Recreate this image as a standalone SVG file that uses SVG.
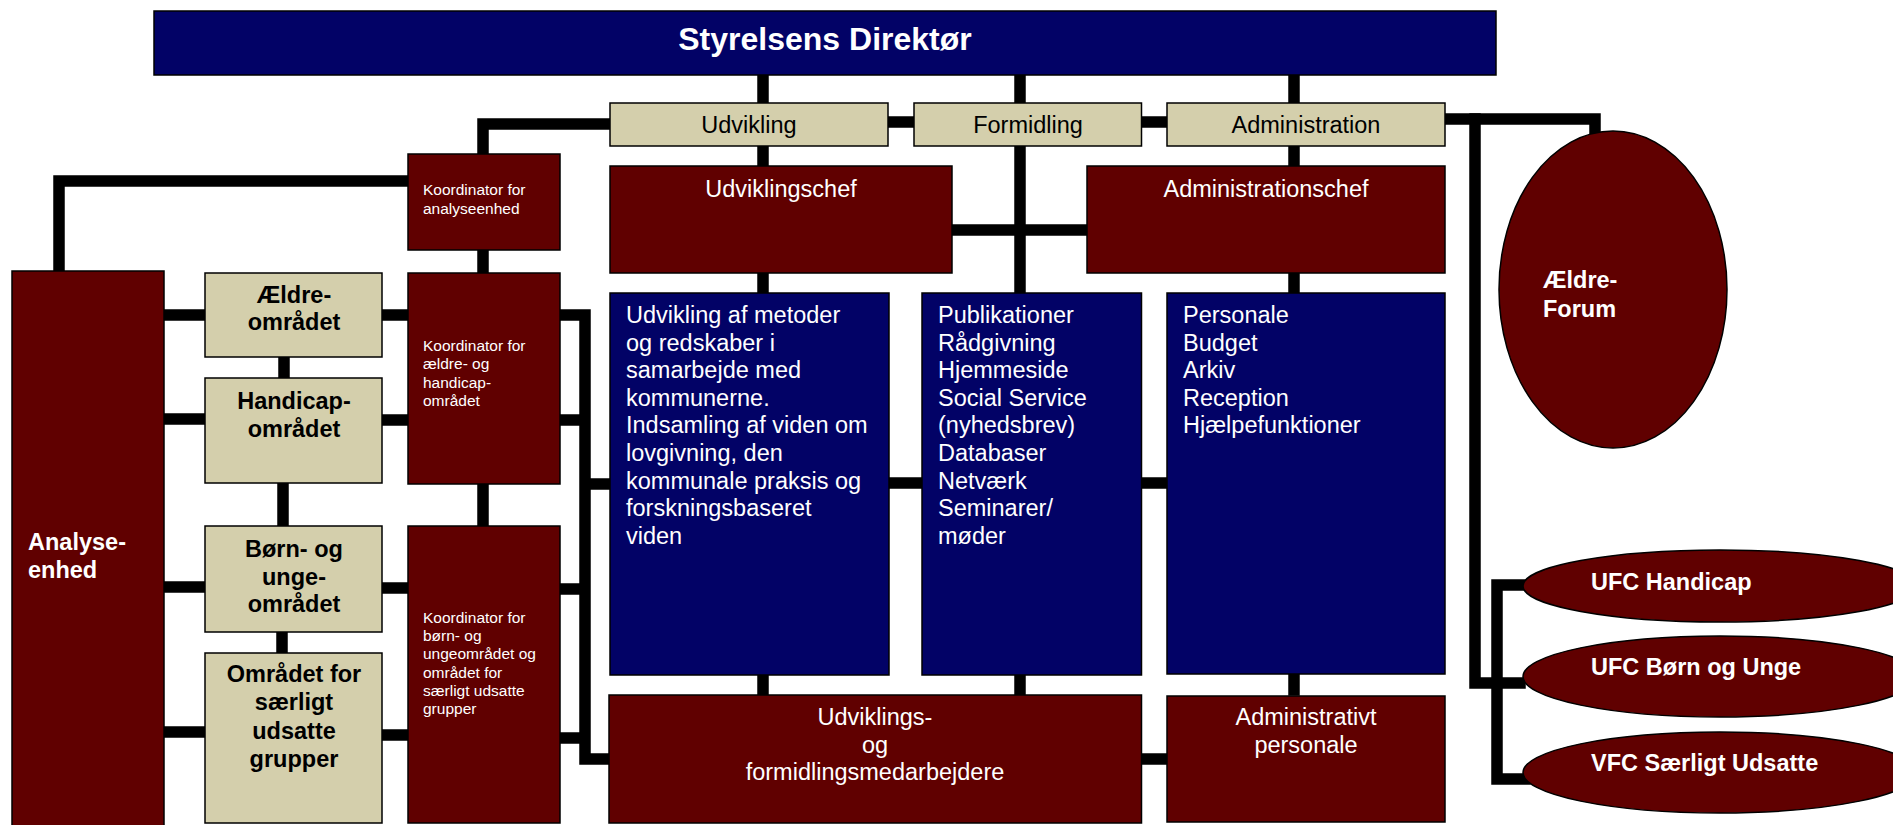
<svg xmlns="http://www.w3.org/2000/svg" width="1893" height="825" viewBox="0 0 1893 825">
<style>
text{font-family:"Liberation Sans",Arial,sans-serif;font-size:23.5px}
.w{fill:#fff}
.k{fill:#000}
.b{font-weight:bold}
.s{font-size:15.5px}
.c{text-anchor:middle}
.navy{fill:#020266;stroke:#000;stroke-width:1.5}
.mar{fill:#600000;stroke:#000;stroke-width:1.5}
.tan{fill:#D4CFAC;stroke:#000;stroke-width:1.5}
.ln{fill:none;stroke:#000;stroke-width:11.5;stroke-linejoin:miter;stroke-linecap:square}
</style>
<rect width="1893" height="825" fill="#fff"/>
<g id="connectors" class="ln">
<path d="M763 80V690"/>
<path d="M1020 80V690"/>
<path d="M1294 80V690"/>
<path d="M605 124H483V150"/>
<path d="M893 122H909M1146 122H1162"/>
<path d="M1450 119H1595V133"/>
<path d="M1475 119V683H1520"/>
<path d="M1525 585H1497V779H1525"/>
<path d="M957 230H1082"/>
<path d="M894 483H917M1146 483H1162"/>
<path d="M1146 759H1162"/>
<path d="M565 315H585V759H605M565 420H585M565 589H585M565 738H585M585 484H605"/>
<path d="M403 181H59V266"/>
<path d="M483 255V268M483 489V521"/>
<path d="M169 315H200M169 419H200M169 587H200M169 732H200"/>
<path d="M387 315H403M387 420H403M387 588H403M387 735H403"/>
<path d="M284 362V373M283 488V521M282 637V648"/>
</g>
<g id="direktor"><rect class="navy" x="154" y="11" width="1342" height="64"/><text class="w b c" x="825" y="50" style="font-size:32px">Styrelsens Direktør</text></g>
<g id="udvikling"><rect class="tan" x="610" y="103" width="278" height="43"/><text class="k c" x="749" y="133">Udvikling</text></g>
<g id="formidling"><rect class="tan" x="914" y="103" width="227.5" height="43"/><text class="k c" x="1028" y="133">Formidling</text></g>
<g id="administration"><rect class="tan" x="1167" y="103" width="278" height="43"/><text class="k c" x="1306" y="133">Administration</text></g>
<g id="udviklingschef"><rect class="mar" x="610" y="166" width="342" height="107"/><text class="w c" x="781" y="197">Udviklingschef</text></g>
<g id="administrationschef"><rect class="mar" x="1087" y="166" width="358" height="107"/><text class="w c" x="1266" y="197">Administrationschef</text></g>
<g id="udvikling-opgaver"><rect class="navy" x="610" y="293" width="279" height="382"/>
<text class="w" x="626" y="323">Udvikling af metoder<tspan x="626" dy="27.6">og redskaber i</tspan><tspan x="626" dy="27.6">samarbejde med</tspan><tspan x="626" dy="27.6">kommunerne.</tspan><tspan x="626" dy="27.6">Indsamling af viden om</tspan><tspan x="626" dy="27.6">lovgivning, den</tspan><tspan x="626" dy="27.6">kommunale praksis og</tspan><tspan x="626" dy="27.6">forskningsbaseret</tspan><tspan x="626" dy="27.6">viden</tspan></text></g>
<g id="formidling-opgaver"><rect class="navy" x="922" y="293" width="219.5" height="382"/>
<text class="w" x="938" y="323">Publikationer<tspan x="938" dy="27.6">Rådgivning</tspan><tspan x="938" dy="27.6">Hjemmeside</tspan><tspan x="938" dy="27.6">Social Service</tspan><tspan x="938" dy="27.6">(nyhedsbrev)</tspan><tspan x="938" dy="27.6">Databaser</tspan><tspan x="938" dy="27.6">Netværk</tspan><tspan x="938" dy="27.6">Seminarer/</tspan><tspan x="938" dy="27.6">møder</tspan></text></g>
<g id="administration-opgaver"><rect class="navy" x="1167" y="293" width="278" height="381"/>
<text class="w" x="1183" y="323">Personale<tspan x="1183" dy="27.6">Budget</tspan><tspan x="1183" dy="27.6">Arkiv</tspan><tspan x="1183" dy="27.6">Reception</tspan><tspan x="1183" dy="27.6">Hjælpefunktioner</tspan></text></g>
<g id="medarbejdere"><rect class="mar" x="609" y="695" width="532.5" height="128"/>
<text class="w c" x="875" y="725">Udviklings-<tspan x="875" dy="27.5">og</tspan><tspan x="875" dy="27.5">formidlingsmedarbejdere</tspan></text></g>
<g id="adm-personale"><rect class="mar" x="1167" y="696" width="278" height="126"/>
<text class="w c" x="1306" y="725">Administrativt<tspan x="1306" dy="27.5">personale</tspan></text></g>
<g id="koord-analyse"><rect class="mar" x="408" y="154" width="152" height="96"/>
<text class="w s" x="423" y="195">Koordinator for<tspan x="423" dy="18.5">analyseenhed</tspan></text></g>
<g id="koord-aeldre"><rect class="mar" x="408" y="273" width="152" height="211"/>
<text class="w s" x="423" y="351">Koordinator for<tspan x="423" dy="18.3">ældre- og</tspan><tspan x="423" dy="18.3">handicap-</tspan><tspan x="423" dy="18.3">området</tspan></text></g>
<g id="koord-boern"><rect class="mar" x="408" y="526" width="152" height="297"/>
<text class="w s" x="423" y="623">Koordinator for<tspan x="423" dy="18.2">børn- og</tspan><tspan x="423" dy="18.2">ungeområdet og</tspan><tspan x="423" dy="18.2">området for</tspan><tspan x="423" dy="18.2">særligt udsatte</tspan><tspan x="423" dy="18.2">grupper</tspan></text></g>
<g id="analyseenhed"><rect class="mar" x="12" y="271" width="152" height="570"/>
<text class="w b" x="28" y="550">Analyse-<tspan x="28" dy="27.5">enhed</tspan></text></g>
<g id="aeldreomraadet"><rect class="tan" x="205" y="273" width="177" height="84"/>
<text class="k b c" x="294" y="303">Ældre-<tspan x="294" dy="27">området</tspan></text></g>
<g id="handicapomraadet"><rect class="tan" x="205" y="378" width="177" height="105"/>
<text class="k b c" x="294" y="409">Handicap-<tspan x="294" dy="28">området</tspan></text></g>
<g id="boernomraadet"><rect class="tan" x="205" y="526" width="177" height="106"/>
<text class="k b c" x="294" y="557">Børn- og<tspan x="294" dy="27.5">unge-</tspan><tspan x="294" dy="27.5">området</tspan></text></g>
<g id="udsatte"><rect class="tan" x="205" y="653" width="177" height="170"/>
<text class="k b c" x="294" y="682">Området for<tspan x="294" dy="28.3">særligt</tspan><tspan x="294" dy="28.3">udsatte</tspan><tspan x="294" dy="28.3">grupper</tspan></text></g>
<g id="aeldreforum"><ellipse class="mar" cx="1613" cy="289.5" rx="114" ry="158.5"/>
<text class="w b" x="1543" y="288">Ældre-<tspan x="1543" dy="29">Forum</tspan></text></g>
<g id="ufc-handicap"><ellipse class="mar" cx="1720" cy="586" rx="197" ry="36"/><text class="w b" x="1591" y="590">UFC Handicap</text></g>
<g id="ufc-boern"><ellipse class="mar" cx="1720" cy="676.5" rx="197" ry="40.5"/><text class="w b" x="1591" y="675">UFC Børn og Unge</text></g>
<g id="vfc-udsatte"><ellipse class="mar" cx="1720" cy="772.5" rx="197" ry="40.5"/><text class="w b" x="1591" y="771">VFC Særligt Udsatte</text></g>
</svg>
